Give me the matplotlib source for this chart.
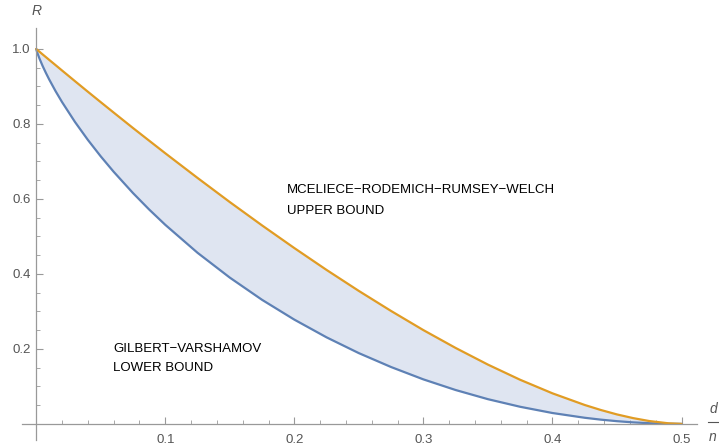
import numpy as np
import matplotlib.pyplot as plt

plt.rcParams['font.family'] = ['Liberation Sans', 'DejaVu Sans']

# relative distance d/n and rates
delta = [0, 0.001, 0.0025, 0.005, 0.0075, 0.01, 0.015, 0.02, 0.03, 0.04, 0.05, 0.06,
         0.075, 0.0875, 0.1, 0.125, 0.15, 0.175, 0.2, 0.225, 0.25, 0.275, 0.3, 0.325,
         0.35, 0.375, 0.4, 0.425, 0.4375, 0.45, 0.4625, 0.475, 0.49, 0.5]
# Gilbert-Varshamov lower bound
gv = [1.0, 0.9886, 0.9748, 0.9546, 0.9363, 0.9192, 0.8876, 0.8586, 0.8056, 0.7577,
      0.7136, 0.6726, 0.6157, 0.5719, 0.531, 0.4564, 0.3902, 0.3309, 0.2781, 0.2308,
      0.1887, 0.1516, 0.1187, 0.0903, 0.0659, 0.0456, 0.029, 0.0163, 0.0113, 0.0072,
      0.004, 0.0018, 0.0003, 0.0]
# McEliece-Rodemich-Rumsey-Welch upper bound
mrrw = [1.0, 0.9971, 0.9928, 0.9855, 0.9784, 0.9712, 0.957, 0.9427, 0.9143, 0.8861,
        0.8582, 0.8305, 0.7892, 0.7555, 0.7219, 0.6561, 0.5917, 0.5294, 0.469, 0.4106,
        0.3546, 0.3011, 0.2501, 0.2025, 0.1581, 0.1176, 0.0815, 0.0504, 0.037, 0.0252,
        0.0154, 0.0076, 0.0015, 0.0]

xticks = [0.1, 0.2, 0.3, 0.4, 0.5]
yticks = [0.2, 0.4, 0.6, 0.8, 1.0]

blue = '#5e81b5'
orange = '#e19c24'
grey = '#555555'

W, H = 719, 446
fig = plt.figure(figsize=(W / 100, H / 100), dpi=100)
ax = fig.add_axes([22 / W, 1 - 440 / H, (697 - 22) / W, (440 - 28) / H])
ax.set_xlim(-0.011, 0.512)
ax.set_ylim(-0.043, 1.056)

ax.fill_between(delta, gv, mrrw, color='#dfe5f1', lw=0)
ax.plot(delta, gv, color=blue, lw=1.6, solid_capstyle='round')
ax.plot(delta, mrrw, color=orange, lw=1.6, solid_capstyle='round')

# mathematica style axes through the origin
for s in ['top', 'right']:
    ax.spines[s].set_visible(False)
ax.spines['left'].set_position(('data', 0))
ax.spines['bottom'].set_position(('data', 0))
for s in ['left', 'bottom']:
    ax.spines[s].set_color('#999999')
    ax.spines[s].set_linewidth(0.9)

ax.set_xticks(xticks)
ax.set_xticklabels([str(t) for t in xticks])
ax.set_yticks(yticks)
ax.set_yticklabels([str(t) for t in yticks])
ax.set_xticks(np.arange(0.02, 0.51, 0.02), minor=True)
ax.set_yticks(np.arange(0.05, 1.05, 0.05), minor=True)
ax.tick_params(which='major', direction='in', length=5, width=0.8, color='#999999',
               labelsize=9.5, labelcolor=grey)
ax.tick_params(which='minor', direction='in', length=3, width=0.6, color='#999999')
ax.tick_params(axis='x', pad=7)
ax.tick_params(axis='y', pad=4)

ax.text(0.0, 1.101, 'R', fontsize=10, style='italic', color=grey, ha='center', va='center',
        clip_on=False)
# d/n written as a stacked fraction
ax.text(0.5245, 0.04, 'd', fontsize=10, style='italic', color=grey, ha='center',
        va='center', clip_on=False)
ax.text(0.5245, -0.035, 'n', fontsize=10, style='italic', color=grey, ha='center',
        va='center', clip_on=False)
ax.plot([0.5205, 0.5285], [0.004, 0.004], color=grey, lw=0.8, clip_on=False)

ax.text(0.0597, 0.2, 'GILBERT\u2212VARSHAMOV', fontsize=9.5, va='center')
ax.text(0.0597, 0.149, 'LOWER BOUND', fontsize=9.5, va='center')
ax.text(0.1946, 0.624, 'MCELIECE\u2212RODEMICH\u2212RUMSEY\u2212WELCH', fontsize=9.5, va='center')
ax.text(0.1946, 0.568, 'UPPER BOUND', fontsize=9.5, va='center')

fig.savefig('out.png', dpi=100)
